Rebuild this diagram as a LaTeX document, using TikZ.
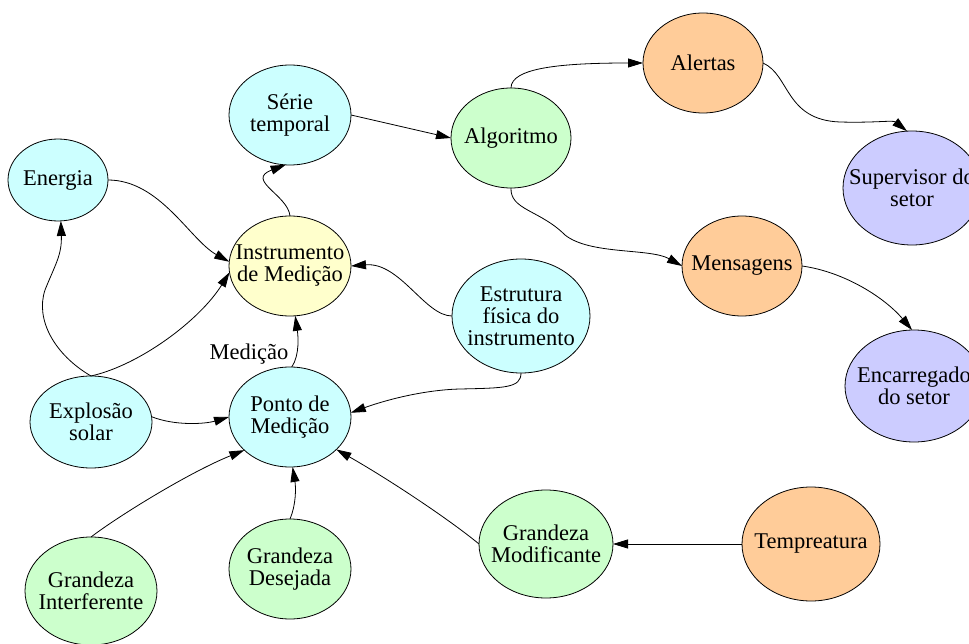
\documentclass[tikz,border=0pt]{standalone}
\usepackage{fontspec}
\setmainfont{Liberation Serif}
\usetikzlibrary{shapes.geometric,arrows.meta}
\definecolor{cyanfill}{HTML}{CCFFFF}
\definecolor{yellowfill}{HTML}{FFFFCC}
\definecolor{greenfill}{HTML}{CCFFCC}
\definecolor{orangefill}{HTML}{FFCC99}
\definecolor{lavfill}{HTML}{CCCCFF}
\begin{document}
\begin{tikzpicture}[x=1pt,y=-1pt,
  bubble/.style={ellipse, draw=black, line width=0.8pt, inner sep=0pt, outer sep=0pt},
  dims/.style 2 args={minimum width=#1pt, minimum height=#2pt},
  txt/.style={font=\fontsize{22.5pt}{22pt}\selectfont, align=center, inner sep=0pt},
  link/.style={line width=0.8pt, -{Triangle[length=15pt,width=9pt]}}]
\clip (0,0) rectangle (969,644);
\fill[white] (0,0) rectangle (969,644);

% nodes
\node[bubble, dims={122}{100}, fill=cyanfill,   label={[txt]center:Série\\temporal}] (serie) at (290,115) {};
\node[bubble, dims={120}{100}, fill=greenfill,  label={[txt]center:Algoritmo}] (algo) at (511,138) {};
\node[bubble, dims={120}{100}, fill=orangefill, label={[txt]center:Alertas}] (alert) at (703,63) {};
\node[bubble, dims={138}{114}, fill=lavfill,    label={[txt]center:Supervisor do\\setor}] (sup) at (912,188) {};
\node[bubble, dims={120}{100}, fill=orangefill, label={[txt]center:Mensagens}] (mens) at (742,266) {};
\node[bubble, dims={138}{112}, fill=lavfill,    label={[txt]center:Encarregado\\do setor}] (enc) at (914,386) {};
\node[bubble, dims={100}{82},  fill=cyanfill,   label={[txt]center:Energia}] (energia) at (58,180) {};
\node[bubble, dims={122}{100}, fill=yellowfill, label={[txt]center:Instrumento\\de Medição}] (inst) at (290,266) {};
\node[bubble, dims={138}{114}, fill=cyanfill,   label={[txt]center:Estrutura\\física do\\instrumento}] (estr) at (521,316) {};
\node[bubble, dims={122}{92},  fill=cyanfill,   label={[txt]center:Explosão\\solar}] (explo) at (91,422) {};
\node[bubble, dims={122}{100}, fill=cyanfill,   label={[txt]center:Ponto de\\Medição}] (ponto) at (290,417) {};
\node[bubble, dims={132}{108}, fill=greenfill,  label={[txt]center:Grandeza\\Interferente}] (interf) at (91,591) {};
\node[bubble, dims={122}{100}, fill=greenfill,  label={[txt]center:Grandeza\\Desejada}] (desej) at (290,569) {};
\node[bubble, dims={134}{108}, fill=greenfill,  label={[txt]center:Grandeza\\Modificante}] (modif) at (546,544) {};
\node[bubble, dims={138}{114}, fill=orangefill, label={[txt]center:Tempreatura}] (temp) at (811,544) {};

% connectors
\draw[link] (inst.north) .. controls (288,195) and (245,180) .. (serie.-95);
\draw[link] (serie.east) -- (algo.west);
\draw[link] (algo.north) .. controls (511,68) and (560,63) .. (alert.west);
\draw[link] (alert.east) .. controls (790,75) and (785,120) .. (840,122)
                         .. controls (875,123) and (893,120) .. (sup.95);
\draw[link] (algo.south) .. controls (510,210) and (540,210) .. (565,235)
                         .. controls (590,255) and (650,248) .. (mens.west);
\draw[link] (mens.east) .. controls (845,272) and (885,298) .. (enc.92);
\draw[link] (energia.east) .. controls (160,180) and (190,240) .. (inst.176);
\draw[link] (explo.north) .. controls (55,355) and (35,320) .. (45,290)
                          .. controls (55,265) and (62,255) .. (energia.-86);
\draw[link] (explo.north) .. controls (140,365) and (200,320) .. (inst.186);
\draw[link] (explo.5) .. controls (175,426) and (205,424) .. (ponto.west);
\draw[link] (ponto.88) .. controls (300,355) and (298,335) .. (inst.-84)
  node[txt, pos=0.3, anchor=east, xshift=-8pt] (medlabel) {Medição};
\draw[link] (estr.west) .. controls (425,316) and (400,262) .. (inst.east);
\draw[link] (estr.south) .. controls (521,388) and (505,388) .. (460,389)
                         .. controls (420,390) and (380,402) .. (ponto.4);
\draw[link] (interf.north) .. controls (120,515) and (190,472) .. (ponto.216);
\draw[link] (desej.north) .. controls (296,505) and (296,488) .. (ponto.-87);
\draw[link] (modif.west) .. controls (450,520) and (390,480) .. (ponto.-35);
\draw[link] (temp.west) -- (modif.east);
\end{tikzpicture}
\end{document}
